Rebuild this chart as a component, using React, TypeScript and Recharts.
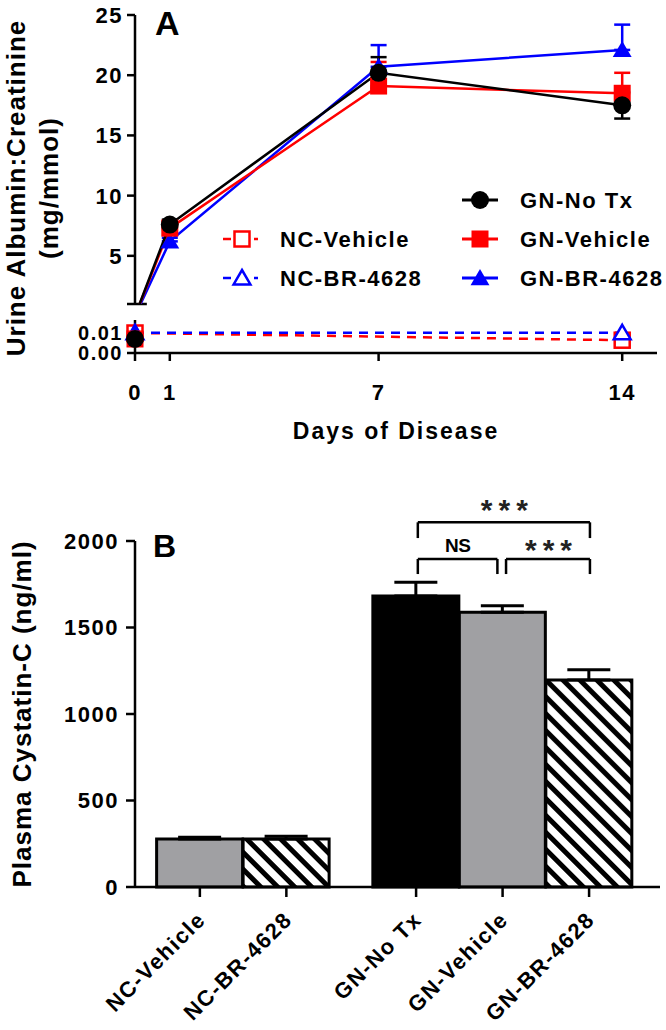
import React from "react";
import {
  LineChart,
  Line,
  XAxis,
  YAxis,
  ErrorBar,
  BarChart,
  Bar,
  Cell,
  ReferenceLine,
  ReferenceDot,
} from "recharts";

// ---- Panel A: urine albumin:creatinine over days of disease ----
const days = [0, 1, 7, 14];
const gnNoTx = [0.0068, 7.6, 20.2, 17.5];
const gnNoTxErr = [0, 0.4, 1.3, 1.1];
const gnVehicle = [0.0068, 7.3, 19.1, 18.5];
const gnVehicleErr = [0, 0.5, 2.0, 1.7];
const gnBr4628 = [0.0098, 6.2, 20.7, 22.1];
const gnBr4628Err = [0, 0.3, 1.8, 2.1];
const ncVehicle = [0.0097, null, null, 0.0062];
const ncBr4628 = [0.0098, null, null, 0.0098];

const upperTicks = [5, 10, 15, 20, 25];
const lowerTicks = [0, 0.01];
const dayTicks = [0, 1, 7, 14];
const UPPER_MIN = 1;
const LOWER_MAX = 0.016;

// ---- Panel B: plasma cystatin-C ----
const groups = ["NC-Vehicle", "NC-BR-4628", "GN-No Tx", "GN-Vehicle", "GN-BR-4628"];
const groupFamily = ["NC", "NC", "GN", "GN", "GN"];
const cystatin = [277, 278, 1682, 1588, 1196];
const cystatinErr = [10, 15, 80, 38, 60];
const cystatinTicks = [0, 500, 1000, 1500, 2000];
const brackets = [
  { from: 2, to: 4, label: "***", level: "top" },
  { from: 2, to: 3, label: "NS", level: "low" },
  { from: 3, to: 4, label: "***", level: "low" },
];

const FONT = "'Liberation Sans', Arial, Helvetica, sans-serif";
const RED = "#ff0000";
const BLUE = "#0000ff";
const GREY = "#a0a0a3";

type Shape = "circle" | "square" | "triangle";

function Marker({ shape, color, open, cx, cy }: { shape: Shape; color: string; open: boolean; cx: number; cy: number }) {
  const fill = open ? "#fff" : color;
  const sw = open ? 2.5 : 0;
  if (shape === "circle") return <circle cx={cx} cy={cy} r={9} fill={fill} stroke={color} strokeWidth={sw} />;
  if (shape === "square") {
    const h = open ? 7.5 : 8.5;
    return <rect x={cx - h} y={cy - h} width={2 * h} height={2 * h} fill={fill} stroke={color} strokeWidth={sw} />;
  }
  const h = open ? 8 : 9;
  return (
    <polygon
      points={`${cx},${cy - h} ${cx + h * 1.05},${cy + h * 0.8} ${cx - h * 1.05},${cy + h * 0.8}`}
      fill={fill}
      stroke={color}
      strokeWidth={sw}
      strokeLinejoin="miter"
    />
  );
}

const makeDot = (shape: Shape, color: string, open = false) => (p: any) => {
  const { cx, cy, index, value } = p;
  if (value == null || !Number.isFinite(cx) || !Number.isFinite(cy)) return <g key={`e${index}`} />;
  return <Marker key={`m${index}`} shape={shape} color={color} open={open} cx={cx} cy={cy} />;
};

const LeftTick = (fmt: (v: number) => string, size = 22) => (p: any) => (
  <text
    x={p.x}
    y={p.y}
    dy={size * 0.36}
    textAnchor="end"
    fontFamily={FONT}
    fontWeight={700}
    fontSize={size}
    letterSpacing={1.5}
    fill="#000"
  >
    {fmt(p.payload.value)}
  </text>
);

const DayTick = (p: any) => (
  <text x={p.x} y={p.y} dy={39} textAnchor="middle" fontFamily={FONT} fontWeight={700} fontSize={22} letterSpacing={1.5} fill="#000">
    {p.payload.value}
  </text>
);

const axisStyle = { stroke: "#000", strokeWidth: 2.5 };

export default function App() {
  const upperRows = days.map((d, i) => ({
    day: d,
    noTx: gnNoTx[i],
    noTxErr: gnNoTxErr[i],
    veh: gnVehicle[i],
    vehErr: [0, gnVehicleErr[i]],
    br: gnBr4628[i],
    brErr: [0, gnBr4628Err[i]],
  }));
  const below = (v: number | null) => (v != null && v <= LOWER_MAX ? v : null);
  const lowerRows = days.map((d, i) => ({
    day: d,
    ncVeh: ncVehicle[i],
    ncBr: ncBr4628[i],
    noTx: below(gnNoTx[i]),
    veh: below(gnVehicle[i]),
    br: below(gnBr4628[i]),
  }));

  // numeric positions so the GN group sits after a half-bar gap
  const barRows = groups.map((g, i) => ({
    name: g,
    pos: i + (groupFamily[i] === "GN" ? 0.5 : 0),
    value: cystatin[i],
    err: [0, cystatinErr[i]],
  }));
  const posOf = (i: number) => barRows[i].pos;
  const barFill = (i: number) =>
    groups[i] === "GN-No Tx" ? "#000" : groups[i].endsWith("BR-4628") ? "url(#hatch)" : GREY;

  const CatTick = (p: any) => {
    const row = barRows.find((r) => r.pos === p.payload.value);
    const ax = p.x + 7;
    const ay = p.y + 24;
    return (
      <text
        x={ax}
        y={ay}
        transform={`rotate(-45 ${ax} ${ay})`}
        textAnchor="end"
        fontFamily={FONT}
        fontWeight={700}
        fontSize={22}
        letterSpacing={1.5}
        fill="#000"
      >
        {row ? row.name : ""}
      </text>
    );
  };

  const legendGN = [
    { label: "GN-No Tx", shape: "circle" as Shape, color: "#000" },
    { label: "GN-Vehicle", shape: "square" as Shape, color: RED },
    { label: "GN-BR-4628", shape: "triangle" as Shape, color: BLUE },
  ];
  const legendNC = [
    { label: "NC-Vehicle", shape: "square" as Shape, color: RED },
    { label: "NC-BR-4628", shape: "triangle" as Shape, color: BLUE },
  ];

  const textProps = { fontFamily: FONT, fontWeight: 700, fill: "#000" };

  return (
    <div style={{ position: "absolute", left: 0, top: 0, width: 666, height: 1030, background: "#fff", overflow: "hidden" }}>
      <svg width={0} height={0} style={{ position: "absolute" }}>
        <defs>
          <pattern id="hatch" width={12} height={12} patternUnits="userSpaceOnUse" patternTransform="rotate(-45)">
            <rect width={12} height={12} fill="#fff" />
            <rect x={0} y={0} width={5} height={12} fill="#000" />
          </pattern>
        </defs>
      </svg>

      {/* Panel A, upper segment */}
      <div style={{ position: "absolute", left: 0, top: 0 }}>
        <LineChart width={666} height={310} data={upperRows} margin={{ top: 15, right: 9, bottom: 6, left: 0 }}>
          <XAxis dataKey="day" type="number" domain={[0, 15]} hide />
          <YAxis
            type="number"
            domain={[UPPER_MIN, 25]}
            allowDataOverflow
            ticks={upperTicks}
            width={135}
            tickSize={8}
            tickMargin={4}
            axisLine={axisStyle}
            tickLine={axisStyle}
            tick={LeftTick((v) => String(v))}
          />
          {/* end cap of the broken axis */}
          <ReferenceLine
            segment={[{ x: -0.23, y: UPPER_MIN }, { x: 0.34, y: UPPER_MIN }]}
            stroke="#000"
            strokeWidth={2.5}
            ifOverflow="visible"
          />
          <Line dataKey="br" stroke={BLUE} strokeWidth={2.5} dot={makeDot("triangle", BLUE)} isAnimationActive={false}>
            <ErrorBar dataKey="brErr" direction="y" width={8} stroke={BLUE} strokeWidth={2.5} />
          </Line>
          <Line dataKey="veh" stroke={RED} strokeWidth={2.5} dot={makeDot("square", RED)} isAnimationActive={false}>
            <ErrorBar dataKey="vehErr" direction="y" width={8} stroke={RED} strokeWidth={2.5} />
          </Line>
          <Line dataKey="noTx" stroke="#000" strokeWidth={2.5} dot={makeDot("circle", "#000")} isAnimationActive={false}>
            <ErrorBar dataKey="noTxErr" direction="y" width={8} stroke="#000" strokeWidth={2.5} />
          </Line>
        </LineChart>
      </div>

      {/* Panel A, lower segment with the day axis */}
      <div style={{ position: "absolute", left: 0, top: 300 }}>
        <LineChart width={666} height={143} data={lowerRows} margin={{ top: 20, right: 9, bottom: 0, left: 0 }}>
          <XAxis
            dataKey="day"
            type="number"
            domain={[0, 15]}
            ticks={dayTicks}
            interval={0}
            height={90}
            tickSize={8}
            tickMargin={0}
            axisLine={axisStyle}
            tickLine={axisStyle}
            tick={DayTick}
          />
          <YAxis
            type="number"
            domain={[0, LOWER_MAX]}
            ticks={lowerTicks}
            interval={0}
            width={135}
            tickSize={8}
            tickMargin={4}
            axisLine={axisStyle}
            tickLine={axisStyle}
            tick={LeftTick((v) => v.toFixed(2), 20)}
          />
          <Line dataKey="ncVeh" stroke={RED} strokeWidth={2.5} strokeDasharray="9 7" connectNulls dot={makeDot("square", RED, true)} isAnimationActive={false} />
          <Line dataKey="ncBr" stroke={BLUE} strokeWidth={2.5} strokeDasharray="9 7" connectNulls dot={makeDot("triangle", BLUE, true)} isAnimationActive={false} />
          <Line dataKey="br" stroke={BLUE} strokeWidth={2.5} dot={makeDot("triangle", BLUE)} isAnimationActive={false} />
          <Line dataKey="veh" stroke={RED} strokeWidth={2.5} dot={makeDot("square", RED)} isAnimationActive={false} />
          <Line dataKey="noTx" stroke="#000" strokeWidth={2.5} dot={makeDot("circle", "#000")} isAnimationActive={false} />
        </LineChart>
      </div>

      {/* Panel B */}
      <div style={{ position: "absolute", left: 0, top: 460 }}>
        <BarChart width={666} height={570} data={barRows} margin={{ top: 81, right: 6, bottom: 3, left: 0 }} barSize={86}>
          <XAxis
            dataKey="pos"
            type="number"
            domain={[-0.75, 5.32]}
            ticks={barRows.map((r) => r.pos)}
            interval={0}
            height={140}
            tickSize={10}
            tickMargin={0}
            axisLine={axisStyle}
            tickLine={axisStyle}
            tick={CatTick}
          />
          <YAxis
            type="number"
            domain={[0, 2000]}
            ticks={cystatinTicks}
            interval={0}
            width={135}
            tickSize={9}
            tickMargin={7}
            axisLine={axisStyle}
            tickLine={axisStyle}
            tick={LeftTick((v) => String(v))}
          />
          <Bar dataKey="value" stroke="#000" strokeWidth={3} isAnimationActive={false}>
            {barRows.map((r, i) => (
              <Cell key={r.name} fill={barFill(i)} stroke="#000" strokeWidth={3} />
            ))}
            <ErrorBar dataKey="err" direction="y" width={21.5} stroke="#000" strokeWidth={3} />
          </Bar>
          {brackets.map((b, k) => {
            const top = b.level === "top";
            const yBar = top ? 2108 : 1896;
            const yLeg = top ? 2017 : 1809;
            const x1 = posOf(b.from) + (b.from === 3 ? 0.04 : 0.02);
            const x2 = posOf(b.to) + (b.to === 3 ? -0.06 : 0.01);
            const seg = { stroke: "#000", strokeWidth: 2.5, ifOverflow: "visible" as const };
            return (
              <React.Fragment key={`br${k}`}>
                <ReferenceLine segment={[{ x: x1, y: yLeg }, { x: x1, y: yBar }]} {...seg} />
                <ReferenceLine segment={[{ x: x1, y: yBar }, { x: x2, y: yBar }]} {...seg} />
                <ReferenceLine segment={[{ x: x2, y: yBar }, { x: x2, y: yLeg }]} {...seg} />
                <ReferenceDot
                  x={(x1 + x2) / 2}
                  y={top ? 2208 : 1977}
                  r={0}
                  ifOverflow="visible"
                  shape={(p: any) =>
                    b.label === "NS" ? (
                      <text x={p.cx} y={p.cy} dy={7} textAnchor="middle" fontFamily={FONT} fontWeight={700} fontSize={19} letterSpacing={-0.5} fill="#000">
                        NS
                      </text>
                    ) : (
                      <text x={p.cx + 3.5} y={p.cy} dy={15} textAnchor="middle" fontFamily={FONT} fontWeight={700} fontSize={30} letterSpacing={6} fill="#222">
                        {b.label}
                      </text>
                    )
                  }
                />
              </React.Fragment>
            );
          })}
        </BarChart>
      </div>

      {/* titles, panel letters and the panel A legend */}
      <svg width={666} height={1030} style={{ position: "absolute", left: 0, top: 0, pointerEvents: "none" }}>
        <text x={155} y={35} fontSize={34} {...textProps}>A</text>
        <text x={153} y={557} fontSize={32} {...textProps}>B</text>
        <text transform="translate(25,188) rotate(-90)" textAnchor="middle" fontSize={26} letterSpacing={1} {...textProps}>
          Urine Albumin:Creatinine
        </text>
        <text transform="translate(58,188) rotate(-90)" textAnchor="middle" fontSize={26} letterSpacing={1} {...textProps}>
          (mg/mmol)
        </text>
        <text transform="translate(31,714) rotate(-90)" textAnchor="middle" fontSize={26} letterSpacing={1} {...textProps}>
          Plasma Cystatin-C (ng/ml)
        </text>
        <text x={396} y={439} textAnchor="middle" fontSize={23} letterSpacing={2} {...textProps}>
          Days of Disease
        </text>

        {legendGN.map((l, i) => {
          const cy = 200 + i * 39;
          return (
            <g key={l.label}>
              <line x1={462} x2={498} y1={cy} y2={cy} stroke={l.color} strokeWidth={3} />
              <Marker shape={l.shape} color={l.color} open={false} cx={480} cy={cy} />
              <text x={520} y={cy} dy={8} fontSize={22} letterSpacing={1.5} {...textProps}>
                {l.label}
              </text>
            </g>
          );
        })}
        {legendNC.map((l, i) => {
          const cy = 239 + i * 39;
          return (
            <g key={l.label}>
              <line x1={223} x2={231} y1={cy} y2={cy} stroke={l.color} strokeWidth={2.5} />
              <line x1={254} x2={258} y1={cy} y2={cy} stroke={l.color} strokeWidth={2.5} />
              <Marker shape={l.shape} color={l.color} open cx={242} cy={cy} />
              <text x={280} y={cy} dy={8} fontSize={22} letterSpacing={1.5} {...textProps}>
                {l.label}
              </text>
            </g>
          );
        })}
      </svg>
    </div>
  );
}
